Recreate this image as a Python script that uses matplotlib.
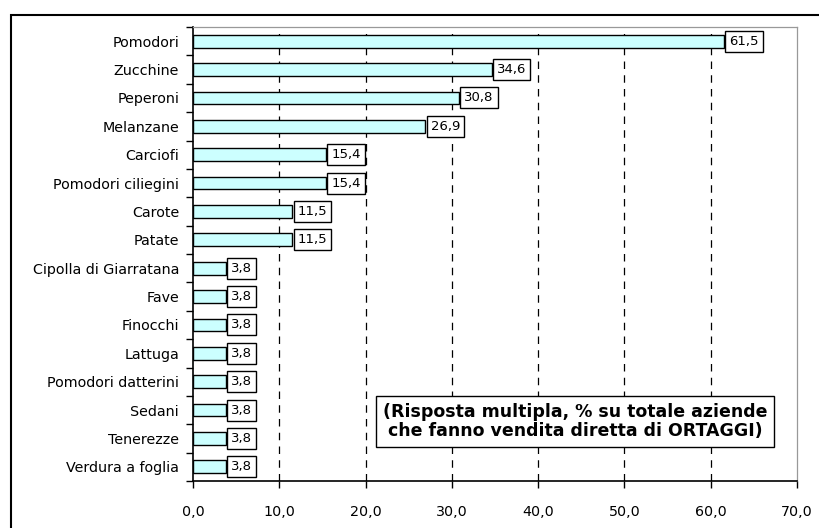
import matplotlib
matplotlib.use("Agg")
import matplotlib.pyplot as plt
from matplotlib.patches import Rectangle
import numpy as np

categories = ["Pomodori", "Zucchine", "Peperoni", "Melanzane", "Carciofi",
              "Pomodori ciliegini", "Carote", "Patate", "Cipolla di Giarratana",
              "Fave", "Finocchi", "Lattuga", "Pomodori datterini", "Sedani",
              "Tenerezze", "Verdura a foglia"]
values = [61.5, 34.6, 30.8, 26.9, 15.4, 15.4, 11.5, 11.5, 3.8,
          3.8, 3.8, 3.8, 3.8, 3.8, 3.8, 3.8]
xticks = [0, 10, 20, 30, 40, 50, 60, 70]
note = "(Risposta multipla, % su totale aziende\nche fanno vendita diretta di ORTAGGI)"

fig = plt.figure(figsize=(8.19, 5.28), dpi=100)
ax = fig.add_axes([193/819, 1-481/528, (797-193)/819, (481-27)/528])

y = np.arange(len(categories))
ax.barh(y, values, height=0.45, color="#CCFFFF", edgecolor="black", linewidth=1.0, zorder=3)
ax.set_ylim(len(categories)-0.5, -0.5)
ax.set_xlim(0, 70)

for yi, v in zip(y, values):
    ax.annotate(f"{v:.1f}".replace(".", ","), xy=(v, yi), xytext=(4, 0),
                textcoords="offset points", ha="left", va="center", fontsize=9.5,
                bbox=dict(boxstyle="square,pad=0.3", fc="white", ec="black", lw=1.0),
                zorder=4)

ax.set_yticks(y)
ax.set_yticklabels(categories, fontsize=10.3)
ax.tick_params(axis="y", which="major", length=0, pad=10)
ax.set_yticks(np.arange(-0.5, len(categories)), minor=True)
ax.tick_params(axis="y", which="minor", length=5, width=1.0, direction="out")

ax.set_xticks(xticks)
ax.set_xticklabels([f"{t:.1f}".replace(".", ",") for t in xticks], fontsize=10.3)
ax.tick_params(axis="x", length=5, width=1.0, direction="out", pad=12)

for t in xticks[1:-1]:
    ax.axvline(t, color="black", linestyle=(0, (6, 5)), linewidth=0.9, zorder=1)

for s in ["left", "bottom"]:
    ax.spines[s].set_color("black")
    ax.spines[s].set_linewidth(1.2)
for s in ["top", "right"]:
    ax.spines[s].set_color("#999999")
    ax.spines[s].set_linewidth(0.9)

ax.text((368+782)/2/819, 1-(396+447)/2/528, note, transform=fig.transFigure,
        ha="center", va="center", fontsize=12.5, fontweight="bold", linespacing=1.05,
        bbox=dict(boxstyle="square,pad=0.4", fc="white", ec="black", lw=1.0), zorder=5)

fig.patches.append(Rectangle((11/819, -0.1), 1.2, 1.1 - 15/528, transform=fig.transFigure,
                             fill=False, ec="black", lw=1.5))

fig.savefig("out.png", dpi=100)
